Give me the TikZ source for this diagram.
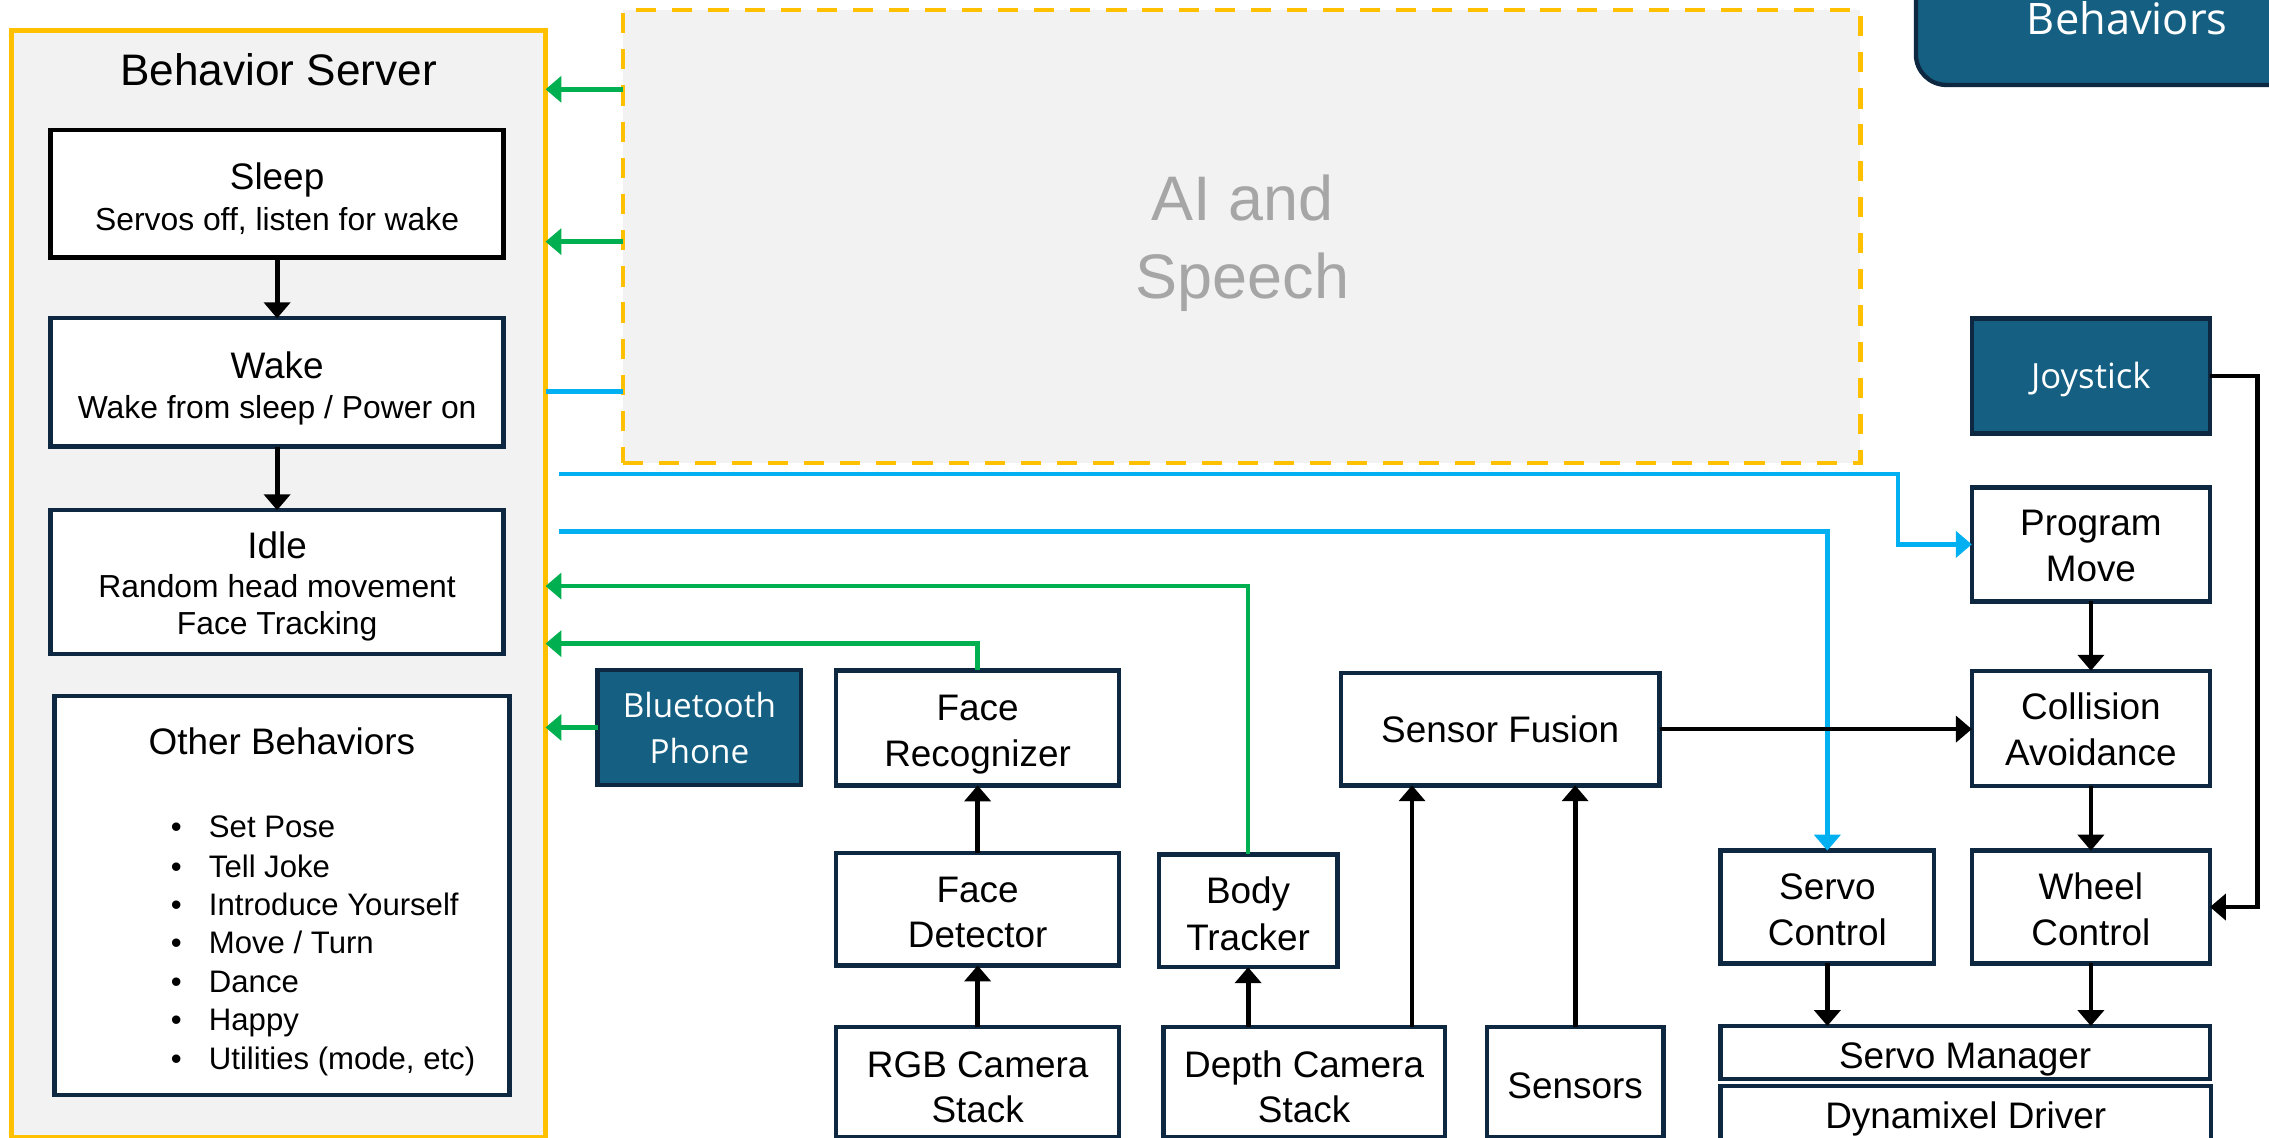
\documentclass[tikz,border=0pt]{standalone}
\usepackage{fontspec}
\setmainfont{Liberation Sans}
\newfontfamily\aptos{Open Sans}
\usetikzlibrary{arrows.meta}
\definecolor{gold}{HTML}{FFC000}
\definecolor{panel}{HTML}{F2F2F2}
\definecolor{navy}{HTML}{0E2841}
\definecolor{tealbox}{HTML}{156082}
\definecolor{grn}{HTML}{00B050}
\definecolor{cyn}{HTML}{00B0F0}
\definecolor{aigray}{HTML}{A6A6A6}
\begin{document}
\begin{tikzpicture}[x=1pt,y=-1pt,
  box/.style={draw=navy, line width=3pt, fill=white, inner sep=0pt, outer sep=0pt},
  darkbox/.style={draw=navy, line width=3pt, fill=tealbox, inner sep=0pt, outer sep=0pt},
  txt/.style={anchor=base, inner sep=0pt, font=\fontsize{25.5}{30}\selectfont},
  subtxt/.style={anchor=base, inner sep=0pt, font=\fontsize{22}{26}\selectfont},
  itemtxt/.style={anchor=base west, inner sep=0pt, font=\fontsize{21.5}{26}\selectfont},
  bul/.style={anchor=base, inner sep=0pt, font=\fontsize{21.5}{26}\selectfont},
  wtxt/.style={anchor=base, inner sep=0pt, text=white, font=\aptos\fontsize{23}{28}\selectfont},
  tip/.style={-{Triangle[length=11pt,width=18pt]}},
  arr/.style={draw=black, line width=3.3pt, tip},
  garr/.style={draw=grn, line width=3.1pt, tip},
  bline/.style={draw=cyn, line width=3.1pt},
  barr/.style={draw=cyn, line width=3.1pt, tip},
  jline/.style={draw=black, line width=3pt, tip}
]
\useasboundingbox (0,0) rectangle (1568,786.4);
\clip (0,0) rectangle (1568,786.4);

% containers
\node[draw=gold, line width=3.2pt, fill=panel, inner sep=0pt, outer sep=0pt,
      minimum width=369pt, minimum height=765pt] (bs) at (192.5,403.5) {};
\node[draw=gold, line width=3.2pt, fill=panel, dash pattern=on 14pt off 11pt,
      inner sep=0pt, outer sep=0pt, minimum width=855pt, minimum height=313pt] (ai) at (858,163.5) {};
\node[darkbox, rounded corners=21pt, minimum width=296pt, minimum height=98.7pt] (beh) at (1472,9.35) {};

% boxes
\node[box, draw=black, minimum width=313pt, minimum height=88pt] (sleep) at (191.5,134) {};
\node[box, minimum width=313pt, minimum height=88.7pt] (wake) at (191.5,264.3) {};
\node[box, minimum width=313pt, minimum height=99.2pt] (idle) at (191.5,402.2) {};
\node[box, minimum width=314.5pt, minimum height=275.6pt] (other) at (194.8,618.8) {};
\node[darkbox, minimum width=140.6pt, minimum height=79.4pt] (bt) at (483.3,502.7) {};
\node[box, minimum width=195.6pt, minimum height=79.5pt] (frec) at (675.6,503) {};
\node[box, minimum width=195.6pt, minimum height=77.7pt] (fdet) at (675.6,628.35) {};
\node[box, minimum width=195.6pt, minimum height=76pt] (rgb) at (675.6,747.5) {};
\node[box, minimum width=123.4pt, minimum height=78pt] (body) at (862.5,629.4) {};
\node[box, minimum width=194.4pt, minimum height=76pt] (depth) at (901.2,747.5) {};
\node[box, minimum width=220.2pt, minimum height=77.7pt] (sfus) at (1036.7,503.85) {};
\node[box, minimum width=122.2pt, minimum height=76pt] (sens) at (1088.5,747.5) {};
\node[darkbox, minimum width=164.6pt, minimum height=79.5pt] (joy) at (1444.9,259.75) {};
\node[box, minimum width=164.6pt, minimum height=78.8pt] (pmove) at (1444.9,376.2) {};
\node[box, minimum width=164.6pt, minimum height=79.5pt] (coll) at (1444.9,503.25) {};
\node[box, minimum width=164.6pt, minimum height=78pt] (wheel) at (1444.9,626.8) {};
\node[box, minimum width=147.8pt, minimum height=78pt] (servo) at (1262.8,626.8) {};
\node[box, minimum width=338.3pt, minimum height=36.5pt] (smgr) at (1358.05,727.25) {};
\node[box, minimum width=339.1pt, minimum height=49.5pt] (dyn) at (1358.45,775.25) {};

% free ends of the blue lines
\coordinate (b1s) at (386,327.6);
\coordinate (b1k) at (1311.7,327.6);
\coordinate (b2s) at (386,367.4);
\coordinate (jk) at (1560,0);

% connectors
\draw[arr] (sleep.south) -- (wake.north);
\draw[arr] (wake.south) -- (idle.north);
\draw[garr] (ai.west |- 0,61.7) -- (bs.east |- 0,61.7);
\draw[garr] (ai.west |- 0,167) -- (bs.east |- 0,167);
\draw[bline] (bs.east |- 0,270.7) -- (ai.west |- 0,270.7);
\draw[barr] (b1s) -- (b1k) |- (pmove.west);
\draw[barr] (b2s) -| (servo.north);
\draw[garr] (body.north) |- (bs.east |- 0,405);
\draw[garr] (frec.north) |- (bs.east |- 0,444.8);
\draw[garr] (bt.west) -- (bs.east |- bt.west);
\draw[arr] (fdet.north) -- (frec.south);
\draw[arr] (rgb.north) -- (fdet.south);
\draw[arr] (depth.north -| body.south) -- (body.south);
\draw[arr] (depth.north -| 975.8,0) -- (sfus.south -| 975.8,0);
\draw[arr] (sens.north) -- (sfus.south -| sens.north);
\draw[arr] (sfus.east) -- (coll.west |- sfus.east);
\draw[arr] (pmove.south) -- (coll.north);
\draw[arr] (coll.south) -- (wheel.north);
\draw[arr] (servo.south) -- (smgr.north -| servo.south);
\draw[arr] (wheel.south) -- (smgr.north -| wheel.south);
\draw[jline] (joy.east) -- (jk |- joy.east) |- (wheel.east);

% texts
\node[anchor=base, inner sep=0pt, font=\fontsize{30.5}{36}\selectfont] (bstitle) at (192.5,59.4) {Behavior Server};
\node[anchor=base, inner sep=0pt, text=aigray, font=\fontsize{43.5}{52}\selectfont] (ait1) at (858.6,152.5) {AI and};
\node[anchor=base, inner sep=0pt, text=aigray, font=\fontsize{43.5}{52}\selectfont] (ait2) at (858.6,206.6) {Speech};
\node[anchor=base, inner sep=0pt, text=white, font=\aptos\fontsize{30}{36}\selectfont] (beht) at (1470,23.7) {Behaviors};

\node[txt] (sleept) at (191.5,131.3) {Sleep};
\node[subtxt] (sleeps) at (191.5,159) {Servos off, listen for wake};
\node[txt] (waket) at (191.5,261.3) {Wake};
\node[subtxt] (wakes) at (191.5,289) {Wake from sleep / Power on};
\node[txt] (idlet) at (191.5,385.8) {Idle};
\node[subtxt] (idles1) at (191.5,413) {Random head movement};
\node[subtxt] (idles2) at (191.5,438.3) {Face Tracking};
\node[txt] (othert) at (194.8,521.3) {Other Behaviors};
\foreach \t/\yy [count=\i] in {{Set Pose}/578.9, {Tell Joke}/606.4, {Introduce Yourself}/632.9, {Move / Turn}/659, {Dance}/685.7, {Happy}/711.9, {Utilities (mode, etc)}/739.2}{
  \node[bul] (bul\i) at (121.8,\yy) {\textbullet};
  \node[itemtxt] (item\i) at (144.2,\yy) {\t};
}

\node[wtxt] (btt1) at (483.3,496) {Bluetooth};
\node[wtxt] (btt2) at (483.3,527.7) {Phone};
\node[wtxt, font=\aptos\fontsize{24}{28}\selectfont] (joyt) at (1444.9,268.4) {Joystick};

\node[txt] (frect1) at (675.6,497.6) {Face};
\node[txt] (frect2) at (675.6,529.6) {Recognizer};
\node[txt] (fdett1) at (675.6,623.4) {Face};
\node[txt] (fdett2) at (675.6,654.8) {Detector};
\node[txt] (rgbt1) at (675.6,744.3) {RGB Camera};
\node[txt] (rgbt2) at (675.6,775.6) {Stack};
\node[txt] (bodyt1) at (862.5,624.5) {Body};
\node[txt] (bodyt2) at (862.5,656.5) {Tracker};
\node[txt] (deptht1) at (901.2,744.3) {Depth Camera};
\node[txt] (deptht2) at (901.2,775.6) {Stack};
\node[txt] (sfust) at (1036.7,513) {Sensor Fusion};
\node[txt] (senst) at (1088.5,759) {Sensors};
\node[txt] (pmovet1) at (1444.9,370.1) {Program};
\node[txt] (pmovet2) at (1444.9,401.9) {Move};
\node[txt] (collt1) at (1444.9,497.5) {Collision};
\node[txt] (collt2) at (1444.9,528.7) {Avoidance};
\node[txt] (servot1) at (1262.8,621.8) {Servo};
\node[txt] (servot2) at (1262.8,653.6) {Control};
\node[txt] (wheelt1) at (1444.9,621.8) {Wheel};
\node[txt] (wheelt2) at (1444.9,653.6) {Control};
\node[txt] (smgrt) at (1358.05,738.5) {Servo Manager};
\node[txt] (dynt) at (1358.45,779.5) {Dynamixel Driver};
\end{tikzpicture}
\end{document}
